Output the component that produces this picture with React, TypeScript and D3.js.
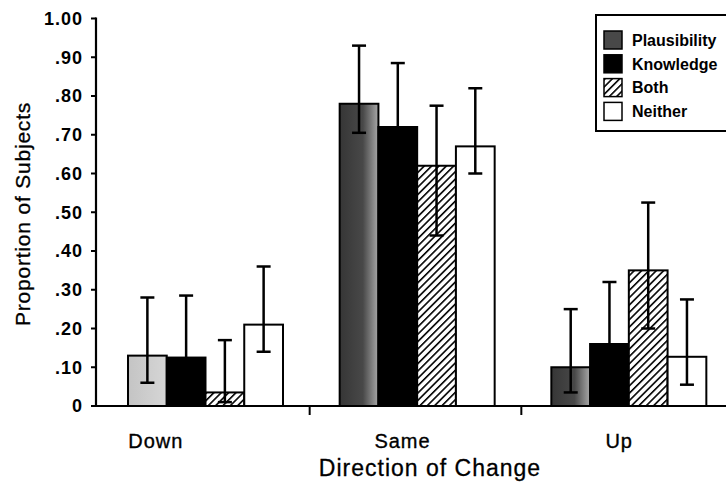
import { useEffect, useRef } from "react";
import * as d3 from "d3";

const categories = ["Down", "Same", "Up"];
const series = ["Plausibility", "Knowledge", "Both", "Neither"];

// proportions per series, in category order
const means: Record<string, number[]> = {
  Plausibility: [0.13, 0.78, 0.1],
  Knowledge: [0.125, 0.72, 0.16],
  Both: [0.035, 0.62, 0.35],
  Neither: [0.21, 0.67, 0.127],
};
const upper: Record<string, number[]> = {
  Plausibility: [0.28, 0.93, 0.25],
  Knowledge: [0.285, 0.885, 0.32],
  Both: [0.17, 0.775, 0.525],
  Neither: [0.36, 0.82, 0.275],
};
const lower: Record<string, number[]> = {
  Plausibility: [0.06, 0.705, 0.035],
  Knowledge: [0.03, 0.56, 0.06],
  Both: [0.01, 0.44, 0.2],
  Neither: [0.14, 0.6, 0.055],
};

const yTicks = [0, 0.1, 0.2, 0.3, 0.4, 0.5, 0.6, 0.7, 0.8, 0.9, 1.0];
const yTickLabels = ["0", ".10", ".20", ".30", ".40", ".50", ".60", ".70", ".80", ".90", "1.00"];

const FONT = "'Liberation Sans', Arial, Helvetica, sans-serif";

export default function App() {
  const svgRef = useRef<SVGSVGElement>(null);

  useEffect(() => {
    if (!svgRef.current) return;
    const width = 726;
    const height = 483;
    const svg = d3.select(svgRef.current);
    svg.selectAll("*").remove();
    svg.attr("width", width).attr("height", height);

    const axisX = 96;
    const y = d3.scaleLinear().domain([0, 1]).range([406, 18.5]);
    const x0 = d3.scaleBand<string>().domain(categories).range([98, 733]);
    const x1 = d3.scaleBand<string>().domain(series).range([30, 185]);

    const defs = svg.append("defs");
    const grad = defs
      .append("linearGradient")
      .attr("id", "plausDark")
      .attr("x1", "0%")
      .attr("x2", "100%");
    grad.append("stop").attr("offset", "0%").attr("stop-color", "#363636");
    grad.append("stop").attr("offset", "60%").attr("stop-color", "#484848");
    grad.append("stop").attr("offset", "100%").attr("stop-color", "#a8a8a8");
    const gradL = defs
      .append("linearGradient")
      .attr("id", "plausLight")
      .attr("x1", "0%")
      .attr("x2", "100%");
    gradL.append("stop").attr("offset", "0%").attr("stop-color", "#c4c4c4");
    gradL.append("stop").attr("offset", "100%").attr("stop-color", "#d6d6d6");

    const hatch = defs
      .append("pattern")
      .attr("id", "hatch")
      .attr("patternUnits", "userSpaceOnUse")
      .attr("width", 5.2)
      .attr("height", 5.2)
      .attr("patternTransform", "rotate(45)");
    hatch.append("rect").attr("width", 5.2).attr("height", 5.2).attr("fill", "#fff");
    hatch
      .append("line")
      .attr("x1", 0.8)
      .attr("x2", 0.8)
      .attr("y1", 0)
      .attr("y2", 5.2)
      .attr("stroke", "#000")
      .attr("stroke-width", 1.6);

    const fillFor = (s: string, ci: number) => {
      if (s === "Plausibility") return ci === 0 ? "url(#plausLight)" : "url(#plausDark)";
      if (s === "Knowledge") return "#000";
      if (s === "Both") return "url(#hatch)";
      return "#fff";
    };

    // bars
    const groups = svg
      .append("g")
      .selectAll("g")
      .data(categories)
      .join("g")
      .attr("transform", (d) => `translate(${x0(d)},0)`);

    groups.each(function (cat, ci) {
      const g = d3.select(this);
      series.forEach((s) => {
        const v = means[s][ci];
        g.append("rect")
          .attr("x", x1(s)!)
          .attr("y", y(v))
          .attr("width", x1.bandwidth())
          .attr("height", y(0) - y(v))
          .attr("fill", fillFor(s, ci))
          .attr("stroke", "#000")
          .attr("stroke-width", 2);
      });
      series.forEach((s) => {
        const cx = x1(s)! + x1.bandwidth() / 2;
        const lo = y(lower[s][ci]);
        const hi = y(upper[s][ci]);
        const eb = g.append("g").attr("stroke", "#000").attr("stroke-width", 2.5);
        eb.append("line").attr("x1", cx).attr("x2", cx).attr("y1", lo).attr("y2", hi);
        eb.append("line").attr("x1", cx - 7).attr("x2", cx + 7).attr("y1", hi).attr("y2", hi);
        eb.append("line").attr("x1", cx - 7).attr("x2", cx + 7).attr("y1", lo).attr("y2", lo);
      });
    });

    // y axis
    const yAxis = svg.append("g");
    yAxis
      .append("line")
      .attr("x1", axisX)
      .attr("x2", axisX)
      .attr("y1", y(1) - 1)
      .attr("y2", y(0) + 1)
      .attr("stroke", "#000")
      .attr("stroke-width", 2.2);
    yAxis
      .selectAll("line.tick")
      .data(yTicks)
      .join("line")
      .attr("class", "tick")
      .attr("x1", axisX - 5)
      .attr("x2", axisX)
      .attr("y1", (d) => y(d))
      .attr("y2", (d) => y(d))
      .attr("stroke", "#000")
      .attr("stroke-width", 2);
    yAxis
      .selectAll("text")
      .data(yTicks)
      .join("text")
      .attr("x", 83)
      .attr("y", (d) => y(d))
      .attr("dy", "0.36em")
      .attr("text-anchor", "end")
      .attr("font-family", FONT)
      .attr("font-weight", "bold")
      .attr("font-size", 18)
      .attr("letter-spacing", 1)
      .text((_, i) => yTickLabels[i]);

    // x axis
    const xAxis = svg.append("g");
    xAxis
      .append("line")
      .attr("x1", axisX - 5)
      .attr("x2", width)
      .attr("y1", y(0))
      .attr("y2", y(0))
      .attr("stroke", "#000")
      .attr("stroke-width", 2.2);
    xAxis
      .selectAll("line.tick")
      .data(categories.slice(1))
      .join("line")
      .attr("class", "tick")
      .attr("x1", (d) => x0(d)!)
      .attr("x2", (d) => x0(d)!)
      .attr("y1", y(0))
      .attr("y2", y(0) + 9)
      .attr("stroke", "#000")
      .attr("stroke-width", 2);
    const labelShift = [-43, -8, -3];
    xAxis
      .selectAll("text")
      .data(categories)
      .join("text")
      .attr("x", (d, i) => x0(d)! + x0.bandwidth() / 2 - 5 + labelShift[i])
      .attr("y", 448)
      .attr("text-anchor", "middle")
      .attr("font-family", FONT)
      .attr("font-size", 20)
      .attr("letter-spacing", 1)
      .attr("stroke", "#000")
      .attr("stroke-width", 0.35)
      .text((d) => d);

    // axis titles
    svg
      .append("text")
      .attr("transform", `translate(30,${214}) rotate(-90)`)
      .attr("text-anchor", "middle")
      .attr("font-family", FONT)
      .attr("font-size", 21)
      .attr("letter-spacing", 0.8)
      .attr("stroke", "#000")
      .attr("stroke-width", 0.3)
      .text("Proportion of Subjects");
    svg
      .append("text")
      .attr("x", 430)
      .attr("y", 476)
      .attr("text-anchor", "middle")
      .attr("font-family", FONT)
      .attr("font-size", 23)
      .attr("letter-spacing", 1)
      .attr("stroke", "#000")
      .attr("stroke-width", 0.3)
      .text("Direction of Change");

    // legend
    const legend = svg.append("g").attr("transform", "translate(596,15)");
    legend
      .append("rect")
      .attr("width", 140)
      .attr("height", 116)
      .attr("fill", "#fff")
      .attr("stroke", "#000")
      .attr("stroke-width", 2);
    const legendFill = ["#484848", "#000", "url(#hatch)", "#fff"];
    series.forEach((s, i) => {
      const row = legend.append("g").attr("transform", `translate(8,${16 + i * 23.8})`);
      row
        .append("rect")
        .attr("width", 18)
        .attr("height", 18)
        .attr("fill", legendFill[i])
        .attr("stroke", "#000")
        .attr("stroke-width", 1.5);
      row
        .append("text")
        .attr("x", 28)
        .attr("y", 9)
        .attr("dy", "0.36em")
        .attr("font-family", FONT)
        .attr("font-weight", "bold")
        .attr("font-size", 16)
        .text(s);
    });
  }, []);

  return (
    <svg
      ref={svgRef}
      style={{ position: "absolute", left: 0, top: 0, background: "#fff" }}
    />
  );
}
